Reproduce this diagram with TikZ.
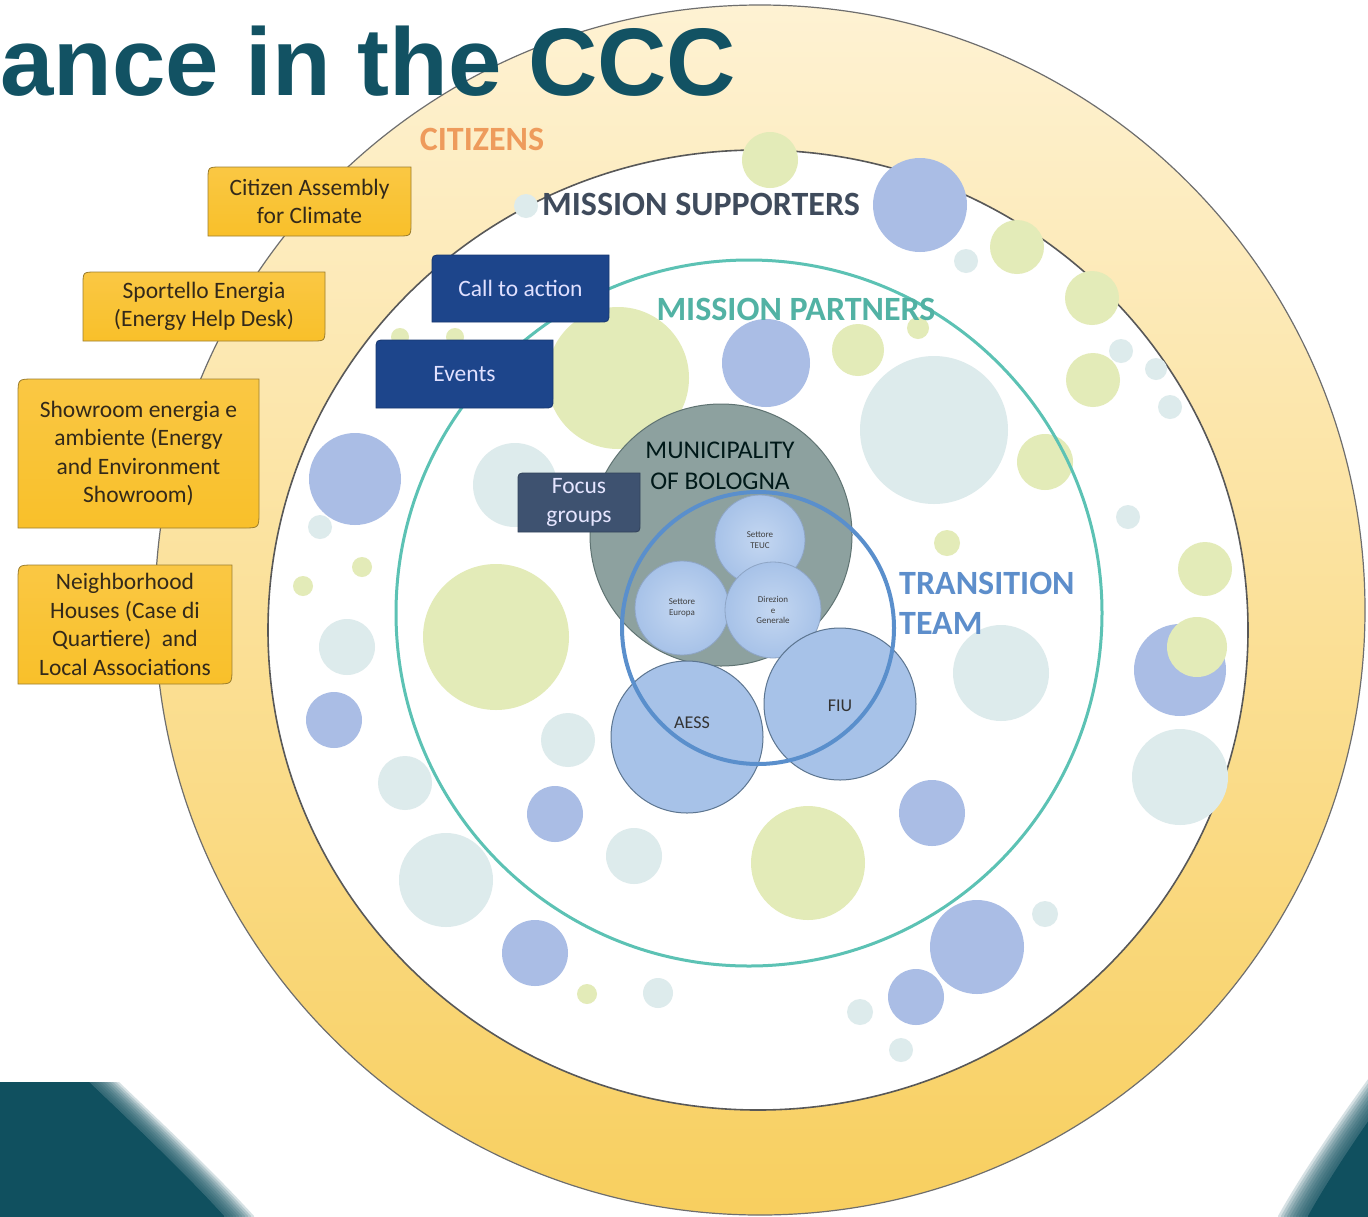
\documentclass[tikz,border=0pt]{standalone}
\usepackage{fontspec}
\setmainfont{Carlito}
\newfontfamily\titlefont{Liberation Sans}
\usetikzlibrary{calc}

\definecolor{ringtop}{HTML}{FEF2D3}
\definecolor{ringmid}{HTML}{FBE3A0}
\definecolor{ringbot}{HTML}{F8CF5F}
\definecolor{ringline}{HTML}{6E6E6E}
\definecolor{bblue}{HTML}{AABDE5}
\definecolor{bgreen}{HTML}{E3EBB8}
\definecolor{bpale}{HTML}{DDEBEC}
\definecolor{partner}{HTML}{5CC2B4}
\definecolor{transit}{HTML}{5A8FCC}
\definecolor{muni}{HTML}{8DA19F}
\definecolor{muniedge}{HTML}{5F7372}
\definecolor{circblue}{HTML}{A7C2E8}
\definecolor{circlight}{HTML}{C4D7F1}
\definecolor{circedge}{HTML}{5C7590}
\definecolor{boxyellow}{HTML}{F9C02A}
\definecolor{boxedge}{HTML}{9C7E2E}
\definecolor{boxtext}{HTML}{33291A}
\definecolor{navy}{HTML}{1D458B}
\definecolor{slate}{HTML}{3E5270}
\definecolor{titleteal}{HTML}{125263}
\definecolor{bandteal}{HTML}{10505F}
\definecolor{citz}{HTML}{EE9B5C}
\definecolor{supp}{HTML}{3F4B5C}
\definecolor{partxt}{HTML}{52B2A4}
\definecolor{trantxt}{HTML}{5D8ECB}

% #1 name, #2 x0, #3 y0, #4 x1, #5 y1, #6 corner, #7 shape style, #8 node style, #9 text
\newcommand\cornerbox[9]{%
  \path[#7] (#2,#3+#6) .. controls (#2,#3) .. (#2+#6,#3) -- (#4,#3) -- (#4,#5-#6) .. controls (#4,#5) .. (#4-#6,#5) -- (#2,#5) -- cycle;
  \node[#8] (#1) at ({(#2+#4)/2},{(#3+#5)/2}) {#9};}

\begin{document}
\begin{tikzpicture}[x=1pt,y=-1pt,
  ybox/.style={top color=boxyellow!88!white, bottom color=boxyellow, draw=boxedge, line width=0.8pt},
  ytext/.style={text=boxtext, align=center, inner sep=0pt, font=\fontsize{23.5}{28.6}\selectfont},
  nbox/.style={fill=navy, draw=navy!80!black, line width=0.8pt},
  ntext/.style={text=white!88!blue, align=center, inner sep=0pt, font=\fontsize{23.5}{26}\selectfont},
  sbox/.style={fill=slate, draw=slate!80!black, line width=0.8pt},
  stext/.style={text=white!90!blue, align=center, inner sep=0pt, font=\fontsize{23.5}{28.5}\selectfont},
  smallc/.style={circle, inner sep=0pt, draw=circblue!85!black, line width=0.8pt, inner color=circlight, outer color=circblue, align=center, text=black!75, font=\fontsize{9}{10.5}\selectfont},
  bigc/.style={circle, inner sep=0pt, fill=circblue, draw=circedge, line width=1pt},
  lbl/.style={inner sep=0pt, font=\bfseries\fontsize{34}{36}\selectfont}
]
\useasboundingbox (0,0) rectangle (1368,1216);
\clip (0,0) rectangle (1368,1216);
\fill[white] (0,0) rectangle (1368,1216);

% bottom teal corners with soft edge
\fill[bandteal, xshift=-16pt] (-60,1082) -- (105,1082) .. controls (150,1125) and (200,1172) .. (240,1216) -- (240,1260) -- (-60,1260) -- cycle;
\foreach \s in {-13,-10,...,14}
  \fill[bandteal, fill opacity=0.17, xshift=\s pt] (-60,1082) -- (105,1082) .. controls (150,1125) and (200,1172) .. (240,1216) -- (240,1260) -- (-60,1260) -- cycle;
\fill[bandteal, xshift=16pt] (1430,1075) -- (1385,1075) .. controls (1345,1130) and (1312,1180) .. (1292,1216) -- (1292,1260) -- (1430,1260) -- cycle;
\foreach \s in {13,10,...,-14}
  \fill[bandteal, fill opacity=0.17, xshift=\s pt] (1430,1075) -- (1385,1075) .. controls (1345,1130) and (1312,1180) .. (1292,1216) -- (1292,1260) -- (1430,1260) -- cycle;

% citizens ring
\path[top color=ringtop, middle color=ringmid, bottom color=ringbot] (760,610) circle[radius=605pt];
\draw[ringline, line width=1.2pt] (760,610) circle[radius=605pt];
\fill[white] (758,630) ellipse[x radius=490pt, y radius=480pt];
\draw[ringline!80!black, line width=1.6pt] (758,630) ellipse[x radius=490pt, y radius=480pt];

% bubbles
\foreach \x/\y/\r in {966/261/12, 1121/351/12, 1156/369/11, 1170/407/12, 934/430/74, 515/485/42, 320/527/12, 347/647/28, 405/783/27, 446/880/47, 568/740/27, 634/856/28, 1001/673/48, 1128/517/12, 1180/777/48, 1045/914/13, 860/1012/13, 901/1050/12, 658/993/15, 526/206/12}
  \fill[bpale] (\x,\y) circle[radius=\r pt];
\foreach \x/\y/\r in {920/205/47, 766/363/44, 355/479/46, 334/720/28, 555/814/28, 932/813/33, 977/947/47, 916/997/28, 535/953/33, 1180/670/46}
  \fill[bblue] (\x,\y) circle[radius=\r pt];
\foreach \x/\y/\r in {770/160/28, 1017/247/27, 1092/298/27, 1093/380/27, 858/350/26, 918/328/11, 1045/462/28, 947/543/13, 1205/569/27, 618/378/71, 496/637/73, 808/863/57, 362/567/10, 303/586/10, 587/994/10, 400/337/9, 455/337/9, 1197/647/30}
  \fill[bgreen] (\x,\y) circle[radius=\r pt];

% mission partners circle
\node[circle, draw=partner, line width=3pt, minimum size=706pt, inner sep=0pt] (partners) at (749,613) {};

% municipality and transition team
\node[circle, fill=muni, draw=muniedge, line width=1pt, minimum size=262pt, inner sep=0pt] (muni) at (721,535) {};
\node[smallc, minimum size=90pt] (teuc) at (760,540) {Settore\\TEUC};
\node[smallc, minimum size=94pt] (europa) at (682,608) {Settore\\Europa};
\node[smallc, minimum size=96pt] (direz) at (773,610) {Direzion\\e\\Generale};
\node[bigc, minimum size=152pt] (aess) at (687,737) {};
\node[bigc, minimum size=152pt] (fiu) at (840,704) {};
\node[circle, draw=transit, line width=4pt, minimum size=272pt, inner sep=0pt] (team) at (758,628) {};
\node[inner sep=0pt, text=black!80, font=\fontsize{18}{20}\selectfont] (aesslbl) at (692,723) {AESS};
\node[inner sep=0pt, text=black!80, font=\fontsize{18}{20}\selectfont] (fiulbl) at (840,706) {FIU};
\node[inner sep=0pt, align=center, text=black!80!teal, font=\fontsize{25.5}{31}\selectfont] (munilbl) at (720,466) {MUNICIPALITY\\OF BOLOGNA};

% boxes
\cornerbox{assembly}{208}{167}{411}{236}{13}{ybox}{ytext}{Citizen Assembly\\for Climate}
\cornerbox{sportello}{83}{272}{325}{341}{13}{ybox}{ytext}{Sportello Energia\\(Energy Help Desk)}
\cornerbox{showroom}{18}{379}{259}{528}{16}{ybox}{ytext}{Showroom energia e\\ambiente (Energy\\and Environment\\Showroom)}
\cornerbox{houses}{18}{565}{232}{684}{16}{ybox}{ytext}{Neighborhood\\Houses (Case di\\Quartiere)\ \ and\\Local Associations}
\cornerbox{call}{432}{255}{609}{322}{10}{nbox}{ntext}{Call to action}
\cornerbox{events}{376}{340}{553}{408}{10}{nbox}{ntext}{Events}
\cornerbox{focus}{518}{473}{640}{532}{9}{sbox}{stext}{Focus\\groups}

% ring labels
\node[lbl, text=citz] (citizens) at (482,139) {CITIZENS};
\node[lbl, text=supp] (supporters) at (701,204) {MISSION SUPPORTERS};
\node[lbl, text=partxt] (partnerslbl) at (796,309) {MISSION PARTNERS};
\node[lbl, text=trantxt, anchor=west] (transition) at (899,583) {TRANSITION};
\node[lbl, text=trantxt, anchor=west] (teamlbl) at (899,623) {TEAM};

% title
\node[anchor=base west, inner sep=0pt, text=titleteal, font=\titlefont\bfseries\fontsize{96}{100}\selectfont] (title) at (0,95) {ance in the CCC};
\end{tikzpicture}
\end{document}
